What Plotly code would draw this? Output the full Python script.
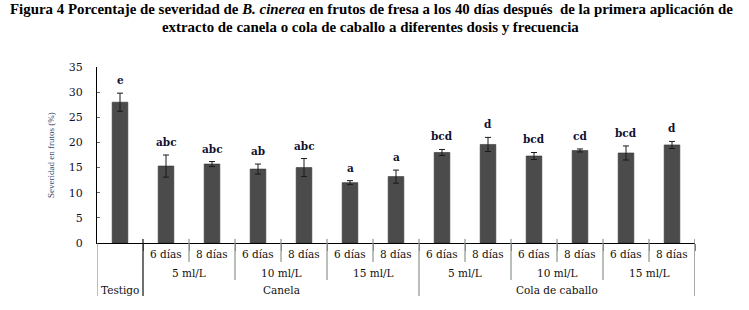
import plotly.graph_objects as go

# ---- data ----
treatments = ["Testigo", "Canela", "Cola de caballo"]
doses = ["5 ml/L", "10 ml/L", "15 ml/L"]
freqs = ["6 días", "8 días"]

severity = [28.0, 15.3, 15.7, 14.7, 15.0, 12.0, 13.2, 18.0, 19.6, 17.3, 18.4, 17.9, 19.5]
errors = [1.8, 2.2, 0.5, 1.0, 1.8, 0.4, 1.3, 0.6, 1.4, 0.7, 0.3, 1.4, 0.7]
letters = ["e", "abc", "abc", "ab", "abc", "a", "a", "bcd", "d", "bcd", "cd", "bcd", "d"]

title_line1 = "Figura 4 Porcentaje de severidad de <i>B. cinerea</i> en frutos de fresa a los 40 días después  de la primera aplicación de"
title_line2 = "extracto de canela o cola de caballo a diferentes dosis y frecuencia"
y_title = "Severidad en frutos (%)"
y_ticks = [0, 5, 10, 15, 20, 25, 30, 35]

# ---- figure ----
W, H = 749, 310
ML, MT = 97, 67
PW, PH = 598, 176
MR = W - ML - PW
MB = H - MT - PH


def py(p):
    # page pixel y (from top) -> paper y
    return (MT + PH - p) / PH


def px(p):
    return (p - ML) / PW


n = len(severity)
xs = list(range(n))

fig = go.Figure()
fig.add_trace(go.Bar(
    x=xs, y=severity,
    marker=dict(color="#4b4b4b", line=dict(color="#333333", width=0.6)),
    width=0.34,
    error_y=dict(type="data", array=errors, visible=True, color="#1a1a1a", thickness=1, width=3),
    hoverinfo="skip",
))

annotations = []
serif = "DejaVu Serif"
lab_font = dict(family=serif, size=10.5, color="#111111")
for i in range(n):
    annotations.append(dict(
        x=xs[i], y=severity[i] + errors[i], xref="x", yref="y",
        text="<b>" + letters[i] + "</b>", showarrow=False, yanchor="bottom", yshift=5,
        font=dict(family=serif, size=10.5, color="#101030"),
    ))

shapes = []
line_grey = "#8a948a"
idx = 1
group_bounds = []
for t in treatments[1:]:
    t_start = idx
    for d in doses:
        d_start = idx
        for f in freqs:
            annotations.append(dict(x=idx, y=py(254), xref="x", yref="paper", text=f, yanchor="middle",
                                    showarrow=False, font=lab_font))
            if f != freqs[-1]:
                shapes.append(dict(type="line", xref="x", yref="paper", x0=idx + 0.5, x1=idx + 0.5,
                                   y0=py(239), y1=py(262), line=dict(color=line_grey, width=1.2)))
            idx += 1
        annotations.append(dict(x=(d_start + idx - 1) / 2, y=py(273), xref="x", yref="paper", text=d,
                                yanchor="middle", showarrow=False, font=lab_font))
        if d != doses[-1]:
            shapes.append(dict(type="line", xref="x", yref="paper", x0=idx - 0.5, x1=idx - 0.5,
                               y0=py(239), y1=py(280), line=dict(color=line_grey, width=1.2)))
    annotations.append(dict(x=(t_start + idx - 1) / 2, y=py(290), xref="x", yref="paper", text=t,
                            yanchor="middle", showarrow=False, font=lab_font))
    group_bounds.append(idx - 0.5)

annotations.append(dict(x=0, y=py(290), xref="x", yref="paper", text=treatments[0],
                        yanchor="middle", showarrow=False, font=lab_font))

shapes.append(dict(type="line", xref="x", yref="paper", x0=-0.5, x1=-0.5, y0=0, y1=py(296),
                   line=dict(color="#8a948a", width=1.2)))
shapes.append(dict(type="line", xref="x", yref="paper", x0=0.5, x1=0.5, y0=py(239), y1=py(296),
                   line=dict(color="#111111", width=1.2)))
shapes.append(dict(type="line", xref="x", yref="paper", x0=group_bounds[0], x1=group_bounds[0],
                   y0=py(239), y1=py(296), line=dict(color=line_grey, width=1.2)))
shapes.append(dict(type="line", xref="x", yref="paper", x0=group_bounds[1], x1=group_bounds[1],
                   y0=py(239), y1=py(296), line=dict(color="#6a746a", width=1.2)))

# title
annotations.append(dict(x=px(371), y=py(9), xref="paper", yref="paper", xanchor="center", yanchor="middle",
                        text="<b>" + title_line1 + "</b>", showarrow=False,
                        font=dict(family="Liberation Serif", size=14.9, color="#000000")))
annotations.append(dict(x=px(370), y=py(27), xref="paper", yref="paper", xanchor="center", yanchor="middle",
                        text="<b>" + title_line2 + "</b>", showarrow=False,
                        font=dict(family="Liberation Serif", size=14.9, color="#000000")))
# y title
annotations.append(dict(x=px(51), y=py(155), xref="paper", yref="paper", xanchor="center", yanchor="middle",
                        text=y_title, textangle=-90, showarrow=False,
                        font=dict(family="Liberation Serif", size=9, color="#3b4a6b")))

fig.update_layout(
    width=W, height=H,
    margin=dict(l=ML, r=MR, t=MT, b=MB, pad=0),
    paper_bgcolor="white", plot_bgcolor="white",
    showlegend=False,
    annotations=annotations,
    shapes=shapes,
    xaxis=dict(range=[-0.5, n - 0.5], showgrid=False, zeroline=False,
               showline=True, linecolor="#000000", linewidth=1.2,
               tickmode="array", tickvals=[i + 0.5 for i in range(n)], ticktext=[""] * n,
               ticks="outside", ticklen=7, tickcolor="#7a847a", tickwidth=1.2, showticklabels=False),
    yaxis=dict(range=[0, 35], showgrid=False, zeroline=False, automargin=False,
               showline=True, linecolor="#000000", linewidth=1.2,
               tickmode="array", tickvals=y_ticks, ticks="inside", ticklen=3,
               tickcolor="#666666", ticklabelstandoff=11,
               tickfont=dict(family=serif, size=11, color="#101030")),
)

fig.write_html("out.html", post_script="document.body.style.margin='0';",
               config={"displayModeBar": False})
